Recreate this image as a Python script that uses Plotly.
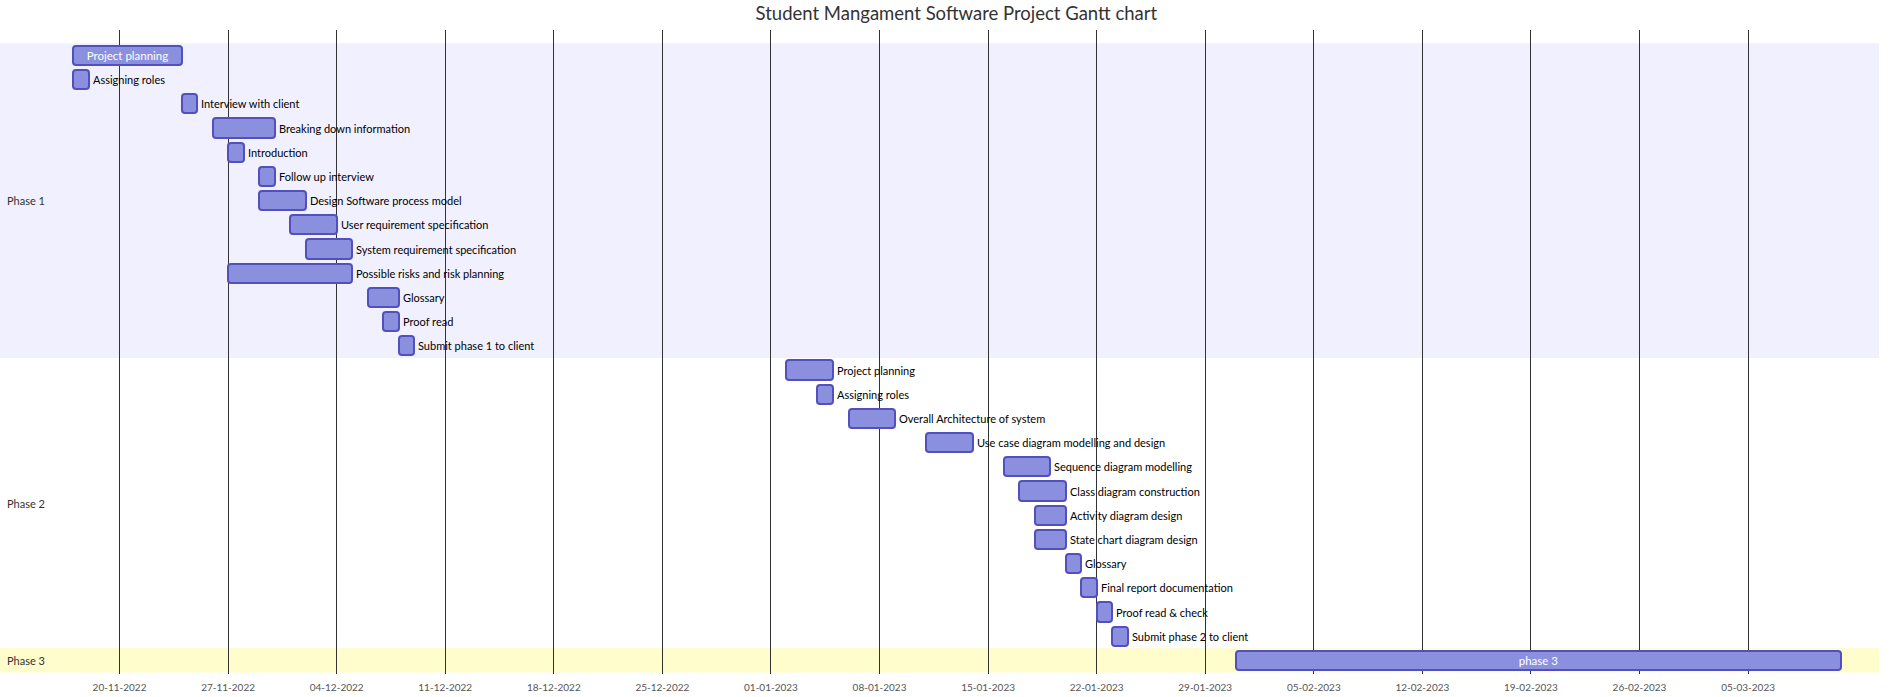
import plotly.graph_objects as go
import pandas as pd

# ---------------- data ----------------
chart_title = "Student Mangament Software Project Gantt chart"
section_names = ["Phase 1", "Phase 2", "Phase 3"]
section_colors = ["#F0F0FF", "#FFFFFF", "#FFFDCC"]

task_names = [
    "Project planning", "Assigning roles", "Interview with client",
    "Breaking down information", "Introduction", "Follow up interview",
    "Design Software process model", "User requirement specification",
    "System requirement specification", "Possible risks and risk planning",
    "Glossary", "Proof read", "Submit phase 1 to client",
    "Project planning", "Assigning roles", "Overall Architecture of system",
    "Use case diagram modelling and design", "Sequence diagram modelling",
    "Class diagram construction", "Activity diagram design",
    "State chart diagram design", "Glossary", "Final report documentation",
    "Proof read & check", "Submit phase 2 to client",
    "phase 3",
]
task_sections = [0] * 13 + [1] * 12 + [2]
task_starts = [
    "2022-11-17", "2022-11-17", "2022-11-24", "2022-11-26", "2022-11-27",
    "2022-11-29", "2022-11-29", "2022-12-01", "2022-12-02", "2022-11-27",
    "2022-12-06", "2022-12-07", "2022-12-08",
    "2023-01-02", "2023-01-04", "2023-01-06", "2023-01-11", "2023-01-16",
    "2023-01-17", "2023-01-18", "2023-01-18", "2023-01-20", "2023-01-21",
    "2023-01-22", "2023-01-23",
    "2023-01-31",
]
task_ends = [
    "2022-11-24", "2022-11-18", "2022-11-25", "2022-11-30", "2022-11-28",
    "2022-11-30", "2022-12-02", "2022-12-04", "2022-12-05", "2022-12-05",
    "2022-12-08", "2022-12-08", "2022-12-09",
    "2023-01-05", "2023-01-05", "2023-01-09", "2023-01-14", "2023-01-19",
    "2023-01-20", "2023-01-20", "2023-01-20", "2023-01-21", "2023-01-22",
    "2023-01-23", "2023-01-24",
    "2023-03-11",
]
tick_dates = [
    "2022-11-20", "2022-11-27", "2022-12-04", "2022-12-11", "2022-12-18",
    "2022-12-25", "2023-01-01", "2023-01-08", "2023-01-15", "2023-01-22",
    "2023-01-29", "2023-02-05", "2023-02-12", "2023-02-19", "2023-02-26",
    "2023-03-05",
]
tick_labels = [
    "20-11-2022", "27-11-2022", "04-12-2022", "11-12-2022", "18-12-2022",
    "25-12-2022", "01-01-2023", "08-01-2023", "15-01-2023", "22-01-2023",
    "29-01-2023", "05-02-2023", "12-02-2023", "19-02-2023", "26-02-2023",
    "05-03-2023",
]

# ---------------- layout constants ----------------
FONT = "Lato"
W, H = 1892, 697
PX_PER_DAY = 15.51
ML, MR, MT, MB = 0, 13, 30, 23
ROW_PX = 24.2
ROWS_TOP_PX = 43.3

starts = pd.to_datetime(task_starts)
ends = pd.to_datetime(task_ends)
dur_ms = [(e - s).total_seconds() * 1000 for s, e in zip(starts, ends)]
rows = list(range(len(task_names)))

# label inside bar when it fits (mermaid behaviour)
inside = []
for name, s, e in zip(task_names, starts, ends):
    bar_px = (e - s).days * PX_PER_DAY
    inside.append(len(name) * 5.5 + 10 < bar_px)

fig = go.Figure()
fig.add_trace(go.Bar(
    y=rows,
    x=dur_ms,
    base=[s.strftime("%Y-%m-%d") for s in starts],
    orientation="h",
    width=0.8,
    marker=dict(color="#8a90dd", line=dict(color="#534fbc", width=2),
                cornerradius=3),
    text=[n if i else "" for n, i in zip(task_names, inside)],
    textposition="inside",
    insidetextanchor="middle",
    insidetextfont=dict(family=FONT, size=11.5, color="#ffffff"),
    constraintext="none",
    cliponaxis=False,
    hoverinfo="skip",
    showlegend=False,
))

shapes = []
annotations = []
# outside labels (just right of bar end)
for r, name, e, ins in zip(rows, task_names, ends, inside):
    if not ins:
        annotations.append(dict(text=name, xref="x", yref="y",
                                x=e.strftime("%Y-%m-%d"), y=r,
                                xanchor="left", yanchor="middle", xshift=2,
                                showarrow=False,
                                font=dict(family=FONT, size=11,
                                          color="#000000")))

# section bands
for si, (sname, scol) in enumerate(zip(section_names, section_colors)):
    srows = [r for r, s in zip(rows, task_sections) if s == si]
    shapes.append(dict(type="rect", xref="paper", yref="y", x0=0, x1=1,
                       y0=min(srows) - 0.5, y1=max(srows) + 0.5,
                       fillcolor=scol, line=dict(width=0), layer="below"))
    annotations.append(dict(text=sname, xref="paper", yref="y", x=0,
                            y=(min(srows) + max(srows)) / 2, xanchor="left",
                            yanchor="middle", xshift=5, showarrow=False,
                            font=dict(family=FONT, size=11, color="#333333")))

# axis range derived from pixel geometry
plot_w = W - ML - MR
plot_h = H - MT - MB
first_day = starts.min()
x_left = first_day - pd.Timedelta(days=73 / PX_PER_DAY)
x_right = x_left + pd.Timedelta(days=plot_w / PX_PER_DAY)
y_top = (MT - ROWS_TOP_PX) / ROW_PX - 0.5
y_bot = y_top + plot_h / ROW_PX

fig.update_layout(
    width=W, height=H,
    margin=dict(l=ML, r=MR, t=MT, b=MB),
    paper_bgcolor="white", plot_bgcolor="rgba(0,0,0,0)",
    title=dict(text=chart_title, x=963 / W, xanchor="center", xref="paper",
               y=1 - 14 / H, yanchor="middle", yref="container",
               font=dict(family=FONT, size=18.5, color="#333333")),
    shapes=shapes, annotations=annotations,
    bargap=0,
    xaxis=dict(type="date", range=[x_left, x_right], tickmode="array",
               tickvals=tick_dates, ticktext=tick_labels,
               showgrid=True, gridcolor="#333333", gridwidth=1,
               zeroline=False, showline=False, ticks="outside", ticklen=4,
               tickcolor="rgba(0,0,0,0)",
               tickfont=dict(family=FONT, size=10, color="#555555"),
               fixedrange=True),
    yaxis=dict(range=[y_bot, y_top], showgrid=False, zeroline=False,
               showticklabels=False, showline=False, fixedrange=True),
)

fig.write_html("out.html")
